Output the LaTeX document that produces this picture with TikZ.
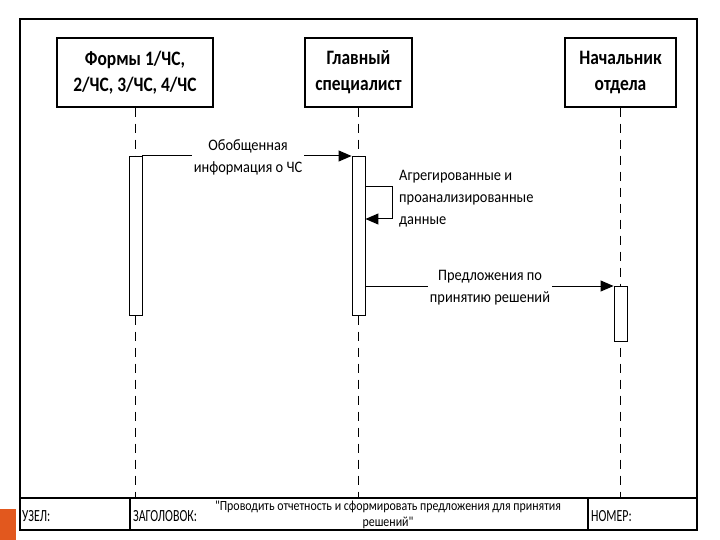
\documentclass[tikz,border=0pt]{standalone}
\usepackage{fontspec}
\setmainfont{Carlito}
\newfontfamily\boxfont[FakeStretch=0.85]{Carlito}
\newfontfamily\lblfont[FakeStretch=0.9]{Carlito}
\newfontfamily\footfont[FakeStretch=0.7]{Carlito}
\newfontfamily\titlefont[FakeStretch=0.85]{Carlito}
\usetikzlibrary{arrows.meta,positioning,calc}
\definecolor{tab}{RGB}{226,88,30}
\begin{document}
\begin{tikzpicture}[x=1pt,y=-1pt,
  actor/.style={draw,line width=1.4pt,fill=white,minimum width=#1,minimum height=69pt,inner sep=0pt,align=center,font=\boxfont\fontsize{20.5}{26}\selectfont\bfseries},
  actbar/.style={draw,line width=0.9pt,fill=white,minimum width=13pt,inner sep=0pt,minimum height=#1},
  life/.style={line width=0.8pt,dash pattern=on 9pt off 7pt},
  msg/.style={line width=1pt,-{Triangle[length=13pt,width=11pt]}},
  lbl/.style={fill=white,inner sep=2pt,align=center,font=\lblfont\fontsize{16}{22}\selectfont},
  foot/.style={inner sep=0pt,anchor=west,font=\footfont\fontsize{17}{18}\selectfont}]
\useasboundingbox (0,0) rectangle (720,540);
% orange corner tab
\fill[tab] (0,509) rectangle (16,540);
% frame
\draw[line width=1.2pt] (20,19) rectangle (697,530);
\draw[line width=1.2pt] (20,498) -- (697,498);
\draw[line width=1.2pt] (130,498) -- (130,530);
\draw[line width=1.2pt] (588,498) -- (588,530);
% lifeline ends
\coordinate (e1) at (135,498);
\coordinate (e2) at (358.5,498);
\coordinate (e3) at (620.5,498);
% actors
\node[actor=156pt] (b1) at (135,72.5) {Формы 1/ЧС,\\2/ЧС, 3/ЧС, 4/ЧС};
\node[actor=107pt] (b2) at (358.5,72.5) {Главный\\специалист};
\node[actor=111pt] (b3) at (620.5,72.5) {Начальник\\отдела};
% lifelines
\draw[life] (b1.south) -- (e1);
\draw[life] (b2.south) -- (e2);
\draw[life] (b3.south) -- (e3);
% activation bars
\node[actbar=159pt,anchor=north] (a1) at (135.5,156) {};
\node[actbar=159pt,anchor=north] (a2) at (358.5,156) {};
\node[actbar=55pt,anchor=north] (a3) at (620.5,286) {};
% message 1
\draw[msg] (a1.north east) -- (a2.north west);
\node[lbl] (l1) at (248,157) {Обобщенная\\информация о ЧС};
% self message
\coordinate (s1) at ($(a2.north east)+(0,31)$);
\coordinate (s2) at (392,219);
\coordinate (s3) at ($(a2.north east)+(0,63)$);
\draw[line width=1pt] (s1) -| (s2);
\draw[msg] (s2) -- (s3);
\node[anchor=west,inner sep=0pt,align=left,font=\lblfont\fontsize{16}{22}\selectfont] (l2) at (399,199) {Агрегированные и\\проанализированные\\данные};
% message 2
\draw[msg] (a2.east |- a3.north) -- (a3.north west);
\node[lbl] (l3) at (490,287.5) {Предложения по\\принятию решений};
% footer
\node[foot] (f1) at (22,516) {УЗЕЛ:};
\node[foot] (f2) at (133,516) {ЗАГОЛОВОК:};
\node[inner sep=0pt,align=center,font=\titlefont\fontsize{14}{16}\selectfont] (f3) at (388,515) {"Проводить отчетность и сформировать предложения для принятия\\решений"};
\node[foot] (f4) at (591,516) {НОМЕР:};
\end{tikzpicture}
\end{document}
